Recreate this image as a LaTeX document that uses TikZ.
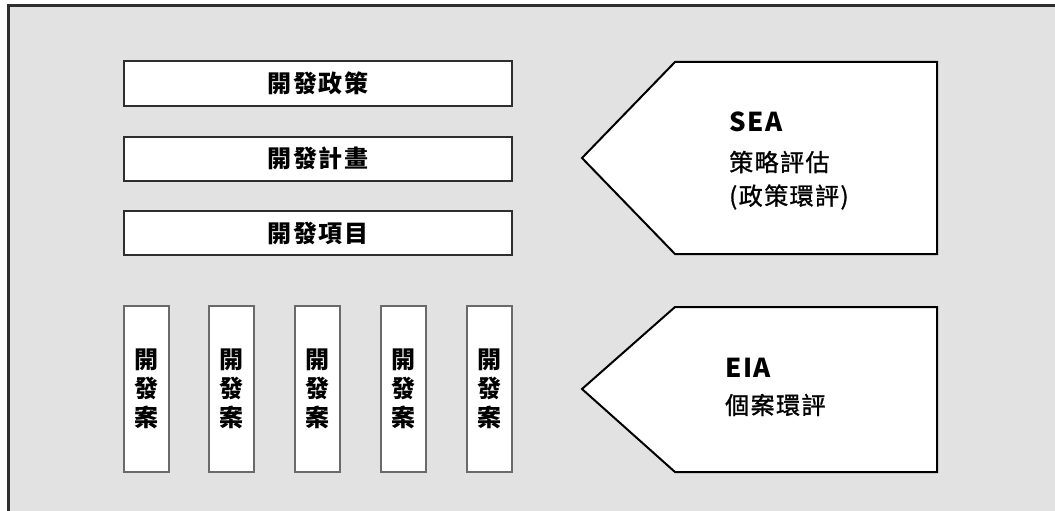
\documentclass[tikz,border=0pt]{standalone}
\usepackage{fontspec}
\newfontfamily\cjk{Noto Sans CJK TC}
\newfontfamily\cjksp[LetterSpace=7]{Noto Sans CJK TC}
\newfontfamily\cjkmed[LetterSpace=6,FakeBold=1.2]{Noto Sans CJK TC}
\newfontfamily\latsp[LetterSpace=6]{Noto Sans CJK TC}
\definecolor{bggray}{HTML}{E2E2E2}
\definecolor{edge}{HTML}{2E2E2E}
\definecolor{vedge}{HTML}{6A6A6A}
\tikzset{
  hbox/.style={draw=edge, line width=2pt, fill=white, minimum width=388pt, minimum height=44pt, inner sep=0pt,
    font=\cjksp\bfseries\fontsize{24}{28}\selectfont},
  vbox/.style={draw=vedge, line width=1.5pt, fill=white, minimum width=45pt, minimum height=166pt, inner sep=0pt,
    align=center, font=\cjk\bfseries\fontsize{24}{29}\selectfont},
  penta/.style={draw=black, line width=2pt, fill=white, line join=miter},
  headtxt/.style={anchor=west, inner sep=0pt, font=\latsp\bfseries\fontsize{26}{30}\selectfont},
  subtxt/.style={anchor=west, inner sep=0pt, font=\cjkmed\fontsize{24}{28}\selectfont}
}
\begin{document}
\begin{tikzpicture}[x=1pt, y=-1pt]
\useasboundingbox (0,0) rectangle (1055,511);
\fill[white] (0,0) rectangle (1055,511);
\fill[bggray] (8,6) rectangle (1055,511);
\draw[edge, line width=3pt] (8,511) -- (8,6) -- (1055,6);

% horizontal boxes
\node[hbox] (policy) at (318,83.5) {開發政策};
\node[hbox] (plan) at (318,158.5) {開發計畫};
\node[hbox] (program) at (318,233) {開發項目};

% vertical boxes
\node[vbox] (p1) at (146.5,389) {開\\發\\案};
\node[vbox] (p2) at (231.5,389) {開\\發\\案};
\node[vbox] (p3) at (317.5,389) {開\\發\\案};
\node[vbox] (p4) at (403.5,389) {開\\發\\案};
\node[vbox] (p5) at (489.5,389) {開\\發\\案};

% SEA pentagon
\coordinate (sA) at (675,62);
\coordinate (sB) at (937,62);
\coordinate (sC) at (937,254);
\coordinate (sD) at (675,254);
\coordinate (sT) at (582,158);
\draw[penta] (sA) -- (sB) -- (sC) -- (sD) -- (sT) -- cycle;
\node[headtxt] (sea) at (729,122) {SEA};
\node[subtxt] (sea1) at (729,162) {策略評估};
\node[subtxt] (sea2) at (729,197) {(政策環評)};

% EIA pentagon
\coordinate (eA) at (675,307);
\coordinate (eB) at (937,307);
\coordinate (eC) at (937,472);
\coordinate (eD) at (675,472);
\coordinate (eT) at (582,389);
\draw[penta] (eA) -- (eB) -- (eC) -- (eD) -- (eT) -- cycle;
\node[headtxt] (eia) at (725,368) {EIA};
\node[subtxt] (eia1) at (725,405) {個案環評};
\end{tikzpicture}
\end{document}
